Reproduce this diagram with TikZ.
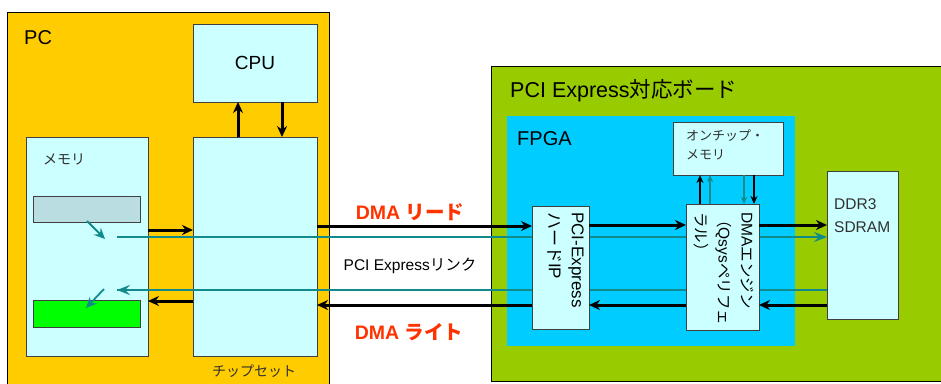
\documentclass[tikz,border=0pt]{standalone}
\usepackage{fontspec}
\setmainfont{Liberation Sans}
\newfontfamily\jp{Noto Sans CJK JP}
\usetikzlibrary{arrows.meta}
\definecolor{pcfill}{HTML}{FFCC00}
\definecolor{boardfill}{HTML}{99CC00}
\definecolor{fpgafill}{HTML}{00CCFF}
\definecolor{boxfill}{HTML}{CCFFFF}
\definecolor{grayfill}{HTML}{B9DDE0}
\definecolor{greenfill}{HTML}{00FF00}
\definecolor{tealc}{HTML}{108A8A}
\definecolor{redt}{HTML}{FF3300}
\definecolor{edge}{HTML}{404040}
\definecolor{txt}{HTML}{303030}
\begin{document}
\begin{tikzpicture}[x=1pt,y=-1pt,
  region/.style={draw=black, line width=0.8pt, anchor=north west, inner sep=0pt, outer sep=0pt},
  box/.style={draw=edge, line width=0.8pt, fill=boxfill, anchor=north west, inner sep=0pt, outer sep=0pt},
  blk/.style={line width=3pt, -{Stealth[length=11pt,width=10pt]}},
  blkthin/.style={line width=2pt, -{Stealth[length=8pt,width=7pt]}},
  tl/.style={draw=tealc, line width=1.8pt},
  tlarrow/.style={draw=tealc, line width=1.8pt, -{Stealth[length=13pt,width=10pt,inset=5pt]}},
  tldiag/.style={draw=tealc, line width=1.8pt, -{Stealth[length=11pt,width=10pt,inset=4pt]}},
  tlthin/.style={draw=tealc, line width=1.5pt, -{Stealth[length=7pt,width=6pt]}},
  big/.style={font=\fontsize{20}{24}\selectfont, inner sep=0pt, anchor=west},
  small/.style={font=\fontsize{14}{19}\selectfont, text=txt, inner sep=0pt},
  redlab/.style={font=\fontsize{19.5}{22}\selectfont\bfseries, text=redt, inner sep=0pt},
]
\useasboundingbox (0,0) rectangle (941,383);
\clip (0,0) rectangle (941,383);
\fill[white] (0,0) rectangle (941,383);

% PC
\node[region, fill=pcfill, minimum width=322pt, minimum height=390pt] (pc) at (7,12) {};
\node[big] (pclab) at (24,38) {PC};
\node[box, minimum width=124pt, minimum height=78pt] (cpu) at (193,24) {};
\node[font=\fontsize{19}{22}\selectfont, inner sep=0pt] (cpulab) at (cpu.center) {CPU};
\node[box, minimum width=124pt, minimum height=219pt] (chip) at (193,137) {};
\node[small, anchor=west] (chiplab) at (212,371) {\jp チップセット};
\node[box, minimum width=122pt, minimum height=219pt] (mem) at (26,137) {};
\node[small, anchor=west] (memlab) at (43,159) {\jp メモリ};
\node[box, fill=grayfill, minimum width=107pt, minimum height=26pt] (rbuf) at (33,196) {};
\node[box, draw=edge, fill=greenfill, minimum width=107pt, minimum height=27pt] (wbuf) at (33,300) {};

% Board
\node[region, fill=boardfill, minimum width=470pt, minimum height=315pt] (board) at (491,66) {};
\node[big, font=\fontsize{21.5}{24}\selectfont] (boardlab) at (510,91) {PCI Express{\jp 対応ボード}};
\node[region, draw=none, fill=fpgafill, minimum width=288pt, minimum height=230pt] (fpga) at (507,116) {};
\node[big] (fpgalab) at (517,139) {FPGA};

% teal line end points
\coordinate (rstart) at (117,237);
\coordinate (wend) at (117,290);
\coordinate (ra1) at (87,221);
\coordinate (ra2) at (105,239);
\coordinate (wa1) at (104,289);
\coordinate (wa2) at (86,308);

% FPGA blocks
\node[box, minimum width=110pt, minimum height=53pt] (onchip) at (673,122) {};
\node[font=\fontsize{13}{19}\selectfont, text=txt, inner sep=0pt, anchor=north west, align=left] (onchiplab) at (686,129) {\jp オンチップ・\\\jp メモリ};
\node[box, minimum width=71pt, minimum height=148pt] (ddr) at (827,171) {};
\node[font=\fontsize{15.5}{23}\selectfont, text=txt, inner sep=0pt, anchor=north west, align=left] (ddrlab) at (834,198) {DDR3\\SDRAM};

\draw[tlarrow] (rstart) -- (ddr.west |- rstart);
\draw[tlarrow] (ddr.west |- wend) -- (wend);

\node[box, minimum width=57pt, minimum height=123pt] (pcie) at (532,206) {};
\node[box, minimum width=73pt, minimum height=126pt] (dma) at (686,204) {};
\node[rotate=-90, anchor=north west, align=left, inner sep=0pt, font=\fontsize{17}{23}\selectfont] (pcielab) at (584,212) {PCI-Express\\{\jp ハード}IP};
\node[rotate=-90, anchor=north west, align=left, inner sep=0pt, font=\fontsize{15.5}{23}\selectfont] (dmalab) at (754,212) {DMA{\jp エンジン}\\{\jp （}Qsys{\jp ペリフェ}\\{\jp ラル）}};

% teal lines over PC part
\draw[tl] (rstart) -- (chip.east |- rstart);
\draw[tl] (chip.east |- wend) -- (wend);
\draw[tldiag] (ra1) -- (ra2);
\draw[tldiag] (wa1) -- (wa2);

% CPU <-> chipset
\draw[blk] (chip.north -| 238,0) -- (cpu.south -| 238,0);
\draw[blk] (cpu.south -| 282,0) -- (chip.north -| 282,0);

% memory <-> chipset
\draw[blk] (mem.east |- 0,230) -- (chip.west |- 0,230);
\draw[blk] (chip.west |- 0,301) -- (mem.east |- 0,301);

% DMA read path
\draw[blk] (chip.east |- 0,226) -- (pcie.west |- 0,226);
\draw[blk] (pcie.east |- 0,225) -- (dma.west |- 0,225);
\draw[blk] (dma.east |- 0,225) -- (ddr.west |- 0,225);

% DMA write path
\draw[blk] (ddr.west |- 0,305) -- (dma.east |- 0,305);
\draw[blk] (dma.west |- 0,305) -- (pcie.east |- 0,305);
\draw[blk] (pcie.west |- 0,305) -- (chip.east |- 0,305);

% on-chip memory
\draw[blkthin] (dma.north -| 700,0) -- (onchip.south -| 700,0);
\draw[tlthin] (dma.north -| 710,0) -- (onchip.south -| 710,0);
\draw[tlthin] (onchip.south -| 744,0) -- (dma.north -| 744,0);
\draw[blkthin] (onchip.south -| 754,0) -- (dma.north -| 754,0);

% labels
\node[redlab] (rdlab) at (410,212) {DMA {\jp リード}};
\node[font=\fontsize{15.5}{18}\selectfont, inner sep=0pt] (linklab) at (410,266) {PCI Express{\jp リンク}};
\node[redlab] (wrlab) at (409,332) {DMA {\jp ライト}};
\end{tikzpicture}
\end{document}
